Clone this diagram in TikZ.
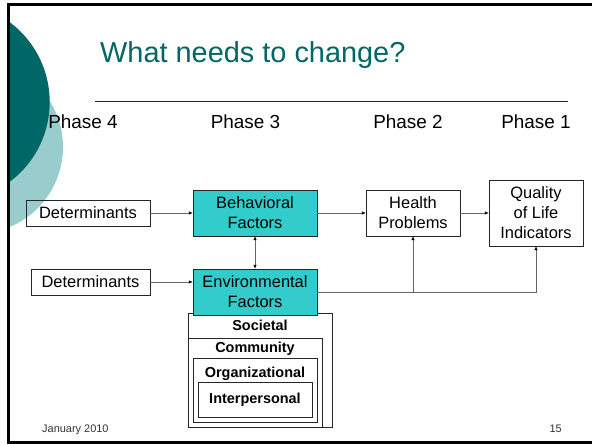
\documentclass[tikz,border=0pt]{standalone}
\usepackage{fontspec}
\setmainfont{Liberation Sans}
\usepackage{xcolor}
\usepackage{tikz}
\usetikzlibrary{arrows.meta}
\usetikzlibrary{positioning}
\definecolor{DarkTeal}{HTML}{006666}
\definecolor{LightTeal}{HTML}{99CCCC}
\definecolor{Turq}{HTML}{33CCCC}

\begin{document}
\begin{tikzpicture}[
		x=1bp, y=-1bp,
		PlainBox/.style={draw=black!85,thin,inner sep=0pt,align=center,font=\fontsize{16.5}{20}\selectfont},
		FactorBox/.style={PlainBox,fill=Turq},
		LevelBox/.style={draw=black!85,thin,inner sep=0pt},
		LevelText/.style={inner sep=0pt,font=\fontsize{14.5}{17}\selectfont\bfseries},
		PhaseText/.style={inner sep=0pt,anchor=base,font=\fontsize{19}{22}\selectfont},
		FootText/.style={inner sep=0pt,text=black!80,font=\fontsize{11}{13}\selectfont},
		Links/.style={draw=black!60,semithick,-{Latex[length=4bp, width=3.5bp, color=black]}}
		]

		\useasboundingbox (0,0) rectangle (592,445);

		% slide decoration
		\begin{scope}
		\clip (8.5,4.5) rectangle (592,442);
		\fill[LightTeal] (-23.6,147) circle (86.6bp);
		\fill[DarkTeal] (-50,102) circle (99.7bp);
		\end{scope}
		\draw[line width=2.5bp] (592,4.5) -- (8.5,4.5) -- (8.5,442.5) -- (592,442.5);

		\node[anchor=base west, inner sep=0pt, text=DarkTeal, font=\fontsize{29}{34}\selectfont] (title) at (100,63) {What needs to change?};
		\draw[black!85] (95,101) -- (568,101);

		\node[PhaseText] (phase4) at (83,129) {Phase 4};
		\node[PhaseText] (phase3) at (245.5,129) {Phase 3};
		\node[PhaseText] (phase2) at (408,129) {Phase 2};
		\node[PhaseText] (phase1) at (536,129) {Phase 1};

		% nested levels under the environment
		\node[LevelBox, minimum width=144bp, minimum height=114bp] (societal) at (260,370) {};
		\node[LevelBox, minimum width=134bp, minimum height=89bp] (community) at (255,382.5) {};
		\node[LevelBox, minimum width=124bp, minimum height=64bp] (org) at (255,390) {};
		\node[LevelBox, LevelText, minimum width=114bp, minimum height=35bp] (interp) at (255,399.8) {Interpersonal};
		\node[LevelText, anchor=base] (societalLbl) at ([yshift=-17.5bp]societal.north) {Societal};
		\node[LevelText, anchor=base] (communityLbl) at ([yshift=-15bp]community.north) {Community};
		\node[LevelText, anchor=base] (orgLbl) at ([yshift=-20bp]org.north) {Organizational};

		\node[PlainBox, minimum width=124bp, minimum height=26bp] (det1) at (88,213) {Determinants};
		\node[PlainBox, minimum width=119bp, minimum height=26bp] (det2) at (90.5,282) {Determinants};
		\node[FactorBox, minimum width=124bp, minimum height=46bp] (behav) at (255,213) {Behavioral\\Factors};
		\node[FactorBox, minimum width=124bp, minimum height=46bp] (envir) at (255,292) {Environmental\\Factors};
		\node[PlainBox, minimum width=94bp, minimum height=46bp] (health) at (413,213) {Health\\Problems};
		\node[PlainBox, minimum width=94bp, minimum height=66bp] (qol) at (536,213) {Quality\\of Life\\Indicators};

		\draw[Links] (det1.east) -- (behav.west);
		\draw[Links] (det2.east) -- (det2.east -| envir.west);
		\draw[Links] (behav.east) -- (health.west);
		\draw[Links] (health.east) -- (qol.west);
		\draw[Links, {Latex[length=4bp, width=3.5bp, color=black]}-{Latex[length=4bp, width=3.5bp, color=black]}] (behav.south) -- (envir.north);

		\coordinate (split) at (envir.east -| health.south);
		\draw[Links] (envir.east) -| (qol.south);
		\draw[Links] (split) -- (health.south);

		\node[FootText, anchor=base west] (date) at (42,432) {January 2010};
		\node[FootText, anchor=base east] (page) at (562,432) {15};

		\end{tikzpicture}
\end{document}
